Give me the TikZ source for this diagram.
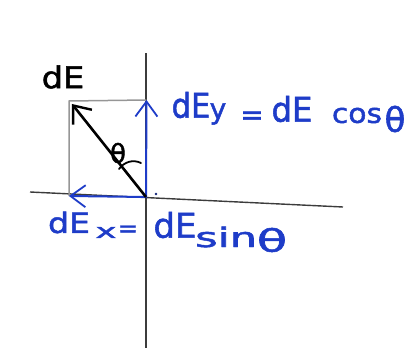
\documentclass[tikz,border=0pt]{standalone}
\usepackage{fontspec}
\setmainfont{DejaVu Sans}[FakeBold=1.6]
\usetikzlibrary{arrows.meta}
\definecolor{pen}{RGB}{30,60,200}
\definecolor{ax}{RGB}{60,60,60}
\definecolor{box}{RGB}{150,150,150}
\tikzset{
  axis/.style={ax, line width=1.4pt},
  boxline/.style={box, line width=1.5pt},
  comp/.style={pen, line width=2pt, line cap=round, -{Straight Barb[length=15pt,width=22pt,line width=1.8pt]}},
  vec/.style={black, line width=2.6pt, -{Straight Barb[length=15pt,width=24pt,line width=2.4pt]}},
  lab/.style={pen, inner sep=0pt},
}
\newcommand{\fs}[1]{\fontsize{#1}{#1}\selectfont}
\begin{document}
\begin{tikzpicture}[x=1pt,y=-1pt]
\useasboundingbox (0,0) rectangle (413,348);
\coordinate (O) at (146,197);
\coordinate (ytop) at (146,53);
\coordinate (ybot) at (146,348);
\coordinate (xl) at (30,192);
\coordinate (xr) at (343,207);
\coordinate (P) at (72,104);
\coordinate (Py) at (146.5,100);
\coordinate (Px) at (69,196);
\coordinate (C) at (69,101);
% axes
\draw[axis] (ytop) -- (ybot);
\draw[axis] (xl) -- (xr);
% rectangle
\draw[boxline] (Px) -- (C) -- (Py);
% components
\draw[comp] (O) -- (Py);
\draw[comp] (O) -- (Px);
% vector
\draw[vec] (O) -- (P);
% theta arc
\draw[black, line width=1.8pt, line cap=round] (119,169) .. controls (124,162) and (133,159) .. (141,163);
\node[black, inner sep=0pt, font=\fs{26}] (th) at (118,153) {θ};
% dot
\fill[pen!60!black] (156,194) circle (1.4pt);
% black label
\node[black, inner sep=0pt, font=\fs{30}] (dE) at (63,77) {\scalebox{1.12}[1]{dE}};
% upper blue label
\node[lab, font=\fs{34}] (y1) at (191,105) {\scalebox{0.9}[1]{dE}};
\node[lab, font=\fs{28}] (y2) at (218,114) {y};
\node[lab, font=\fs{28}] (y3) at (252,118) {=};
\node[lab, font=\fs{34}] (y4) at (292,109) {\scalebox{0.95}[1]{dE}};
\node[lab, font=\fs{27}] (y5) at (357,115.5) {\scalebox{1.1}[1]{cos}};
\node[lab, font=\fs{34}] (y6) at (395,119) {θ};
% lower blue label
\node[lab, font=\fs{28}] (x1) at (69,222.5) {\scalebox{1.18}[1]{dE}};
\node[lab, font=\fs{20}] (x2) at (106,232.5) {\scalebox{1.8}[1]{x}};
\node[lab, font=\fs{24}] (x3) at (128,231) {=};
\node[lab, font=\fs{34}] (x4) at (175,225) {dE};
\node[lab, font=\fs{27}, anchor=base west] (x5) at (195,247) {\scalebox{1.6}[1]{sin}};
\node[lab, font=\fs{31}] (x6) at (272,240) {\scalebox{1.6}[1]{θ}};
\end{tikzpicture}
\end{document}
